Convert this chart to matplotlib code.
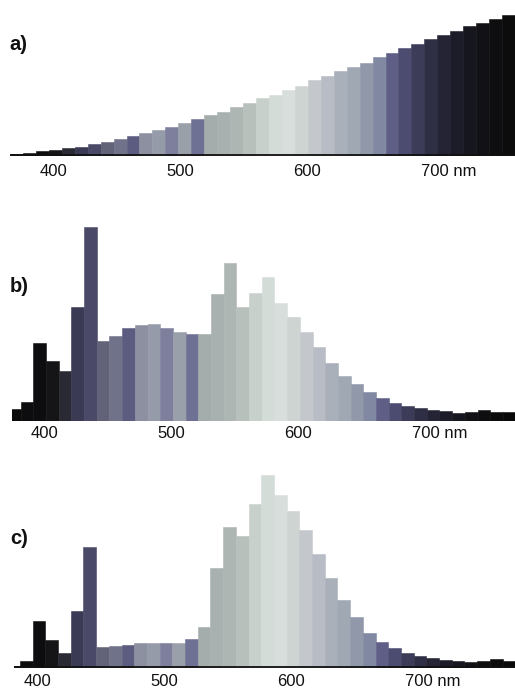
import numpy as np
import matplotlib
matplotlib.use("Agg")
import matplotlib.pyplot as plt

plt.rcParams['font.family'] = ['Liberation Sans', 'DejaVu Sans']

# ---------------- data ----------------
panel_labels = ["a)", "b)", "c)"]
tick_values = [400, 500, 600, 700]
tick_texts = ["400", "500", "600", "700 nm"]

# a) smooth rising spectrum (39 bins across the range)
a_range = (366, 764)
a_values = [2, 3.3, 5, 6, 7.7, 9.3, 12, 14.3, 16.7, 20, 22.7, 26, 28.7, 32.7,
            36.7, 41, 44.3, 49.3, 53.3, 57.7, 61, 66, 70, 76, 80, 85, 89, 93,
            99, 103, 108, 112, 117, 121, 125, 130, 133, 137, 141]

# b) and c): 10 nm bins starting at 370 nm
bin_start = 370
bin_width = 10
b_values = [12, 19, 78, 60, 50, 114, 194, 80, 85, 93, 96, 97, 92.5, 89, 87, 87,
            127, 158, 114, 128, 144, 118, 103.5, 89, 73.5, 57.5, 45, 37, 29,
            22.5, 18, 15, 12.5, 11, 10, 8, 8.5, 11, 9, 9]
c_values = [2, 7, 47, 28, 15, 57, 121, 21, 22, 23, 25, 25, 25, 25.5, 29, 41,
            100, 141, 132, 164, 193, 173, 157, 138, 114, 90, 68, 51, 35, 26,
            20, 15, 12, 10, 8, 7, 6, 7, 9, 7]

# grey tone of each 10 nm band (as printed)
tone_start = 360
tones = ["#0a0a0a", "#0a0a0a", "#0d0d10", "#0d0d10", "#151518", "#2a2a35",
         "#3a3a55", "#4a4a68", "#626279", "#707289", "#5c5c80", "#8c90a1",
         "#969baa", "#7e7e9d", "#9aa0a9", "#6e7094", "#a4acac", "#a8b0b0",
         "#aeb6b4", "#b8c0bc", "#c8d0cc", "#d4dcd8", "#d8dedb", "#ced4d2",
         "#c4c8cc", "#b8bcc4", "#aab0ba", "#a0a8b4", "#9098aa", "#8088a2",
         "#5e5e86", "#4c4c70", "#3c3c58", "#2e2e44", "#242434", "#1c1c28",
         "#16161e", "#121216", "#0e0e10", "#0c0c0c", "#0a0a0a", "#0a0a0a"]

# ---------------- layout (pixels) ----------------
W, H = 515, 689
fig = plt.figure(figsize=(W / 100, H / 100), dpi=100)

def tone_for(nm):
    i = int((nm - tone_start) // 10)
    i = max(0, min(len(tones) - 1, i))
    return tones[i]

def make_axes(left_px, baseline_px, height_px):
    ax = fig.add_axes([left_px / W, 1 - baseline_px / H,
                       (W - left_px) / W, height_px / H])
    ax.set_ylim(0, height_px)
    ax.axis('off')
    return ax

def draw(ax, edges, values, xlim, tick_shift, label_drop, baseline_line):
    edges = np.asarray(edges, dtype=float)
    centers = (edges[:-1] + edges[1:]) / 2
    colors = [tone_for(c) for c in centers]
    ax.bar(edges[:-1], values, width=np.diff(edges), align='edge',
           color=colors, edgecolor=colors, linewidth=0.4)
    ax.set_xlim(*xlim)
    if baseline_line:
        ax.plot([xlim[0], xlim[1]], [0.6, 0.6], color='#111111', lw=1.3,
                solid_capstyle='butt')
    for v, t in zip(tick_values, tick_texts):
        x = v + tick_shift + (11.5 if ' ' in t else 0)
        ax.text(x, -label_drop, t, ha='center', va='center', fontsize=12,
                color='#111111')

# panel a
ax_a = make_axes(10, 156, 150)
a_edges = np.linspace(a_range[0], a_range[1], len(a_values) + 1)
draw(ax_a, a_edges, a_values, (366, 764), 0, 15.5, True)

# panel b
ax_b = make_axes(11.7, 420.7, 210)
b_edges = bin_start + bin_width * np.arange(len(b_values) + 1)
draw(ax_b, b_edges, b_values, (373, 769.5), -1.3, 13, False)

# panel c
ax_c = make_axes(14, 668, 200)
c_edges = bin_start + bin_width * np.arange(len(c_values) + 1)
draw(ax_c, c_edges, c_values, (375.3, 769.8), -6.5, 14, True)

for lab, (xp, yp) in zip(panel_labels, [(18, 44), (19, 287), (19, 539)]):
    fig.text(xp / W, 1 - yp / H, lab, ha='center', va='center',
             fontsize=14.5, fontweight='bold', color='#111111')

fig.savefig("out.png", dpi=100)
